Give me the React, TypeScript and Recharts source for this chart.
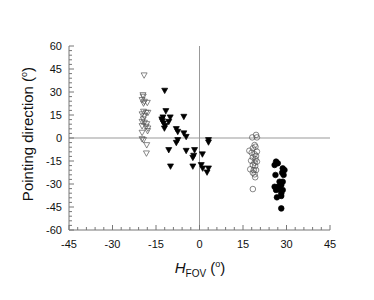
import React from "react"
import { ScatterChart, Scatter, XAxis, YAxis, ReferenceLine, Label } from "recharts"

// [H_FOV, pointing direction] pairs
const openTriangles = [
  [-19.1, 40.9], [-19.5, 28], [-19.4, 27], [-19.8, 24.8], [-19, 23.7], [-18, 23], [-19.3, 22.6],
  [-19.3, 17.2], [-18.4, 16.5], [-17.8, 16.5], [-19.8, 15.5], [-19, 14.3], [-19.4, 12.2],
  [-19.8, 10.6], [-19, 10], [-18.2, 9.1], [-19.8, 7.8], [-17.8, 6.3], [-18.4, 7.4],
  [-19.8, 3.5], [-17.9, 4.6], [-19.8, -0.7], [-19.3, -1.3], [-18.2, -4.6], [-18.3, -10],
]

const filledTriangles = [
  [-12, 30.9], [-11.6, 17.6], [-12.6, 13.5], [-13, 12.2], [-10.1, 13.5], [-10.6, 10.6],
  [-12.4, 9.6], [-12.1, 6.3], [-12.8, 11], [-11.8, 8], [-5.4, 13.9], [-8, 5.9], [-7.5, 4.1],
  [-5.4, 3.1], [-4.6, 0.8], [-7.5, -1.3], [-8, -3.1], [-10.6, -7.8], [-4.6, -8.3],
  [-1.7, -7.8], [-2, -11.5], [-2.3, -12.8], [1, -10.6], [3.1, -1.3], [3.1, -2.8],
  [-10, -18.5], [-2.3, -18.5], [0.6, -17.6], [1.1, -19.8], [2.6, -22.4], [3.1, -19.8],
]

const openCircles = [
  [18.2, 0.4], [19.5, 2], [19.8, 0.4], [19, -4.6], [19.3, -5.7], [18.4, -6.7], [17.2, -8.3],
  [19.8, -8.9], [18, -9.6], [19, -10.6], [19.5, -11.7], [18.4, -12.6], [19.3, -13.9],
  [17.8, -14.8], [19, -16.1], [19.8, -15.4], [18.4, -17.6], [19.2, -18.3], [17.5, -20.4],
  [18.7, -20.9], [19.5, -20.9], [18.4, -22.6], [19, -23.7], [19.2, -25.6], [18.4, -33.3],
]

const filledCircles = [
  [26.4, -15.4], [27, -16.5], [25.9, -17.6], [26.2, -24.1], [28.7, -19.8], [29.3, -20.9],
  [28.5, -22.6], [29, -24.1], [27.6, -28.5], [28.7, -28.5], [25.9, -31.8], [27, -31.8],
  [28.2, -30.7], [26.4, -33.9], [27.6, -33.5], [28.7, -33.9], [28.2, -36.1], [26.7, -38.7],
  [28.2, -37.8], [28.2, -45.9],
]

const xMajor = [-45, -30, -15, 0, 15, 30, 45]
const yMajor = [-60, -45, -30, -15, 0, 15, 30, 45, 60]
const xTicks = Array.from({ length: 31 }, (_, i) => -45 + i * 3)
const yTicks = Array.from({ length: 41 }, (_, i) => -60 + i * 3)

const toPts = (arr: number[][]) => arr.map(([x, y]) => ({ x, y }))

const axisColor = "#777"
const font = "'Liberation Sans', Arial, sans-serif"

const XTick = (props: any) => {
  const { x, y, payload } = props
  const major = xMajor.includes(payload.value)
  return (
    <g>
      <line x1={x} x2={x} y1={y} y2={y - (major ? 5 : 3)} stroke={axisColor} />
      {major && (
        <text x={x} y={y + 18} textAnchor="middle" fontSize={11} fontFamily={font} fill="#111">
          {payload.value}
        </text>
      )}
    </g>
  )
}

const YTick = (props: any) => {
  const { x, y, payload } = props
  const major = yMajor.includes(payload.value)
  return (
    <g>
      <line x1={x} x2={x + (major ? 5 : 3)} y1={y} y2={y} stroke={axisColor} />
      {major && (
        <text x={x - 7} y={y + 4} textAnchor="end" fontSize={11} fontFamily={font} fill="#111">
          {payload.value}
        </text>
      )}
    </g>
  )
}

const triangle = (filled: boolean) => (props: any) => {
  const { cx, cy } = props
  const s = 3
  return (
    <path
      d={`M${cx - s},${cy - s * 0.8} L${cx + s},${cy - s * 0.8} L${cx},${cy + s} Z`}
      fill={filled ? "#000" : "none"}
      stroke={filled ? "#000" : "#555"}
      strokeWidth={0.7}
    />
  )
}

const circle = (filled: boolean) => (props: any) => {
  const { cx, cy } = props
  return (
    <circle cx={cx} cy={cy} r={2.8} fill={filled ? "#000" : "none"} stroke={filled ? "#000" : "#555"} strokeWidth={0.7} />
  )
}

export default function App() {
  return (
    <div style={{ position: "absolute", left: 0, top: 0 }}>
      <ScatterChart width={374} height={300} margin={{ top: 46, right: 44, bottom: 40, left: 9 }}>
        <XAxis
          type="number"
          dataKey="x"
          domain={[-45, 45]}
          ticks={xTicks}
          interval={0}
          tickSize={0}
          tickMargin={0}
          tick={<XTick />}
          stroke={axisColor}
          height={30}
        >
          <Label
            content={() => (
              <text x={200} y={273} textAnchor="middle" fontFamily={font} fontSize={15} fill="#111">
                <tspan fontStyle="italic">H</tspan>
                <tspan fontSize={10} dy={4}>FOV</tspan>
                <tspan dy={-4}> (</tspan>
                <tspan fontSize={9} dy={-6}>o</tspan>
                <tspan dy={6}>)</tspan>
              </text>
            )}
          />
        </XAxis>
        <YAxis
          type="number"
          dataKey="y"
          domain={[-60, 60]}
          ticks={yTicks}
          interval={0}
          tickSize={0}
          tickMargin={0}
          tick={<YTick />}
          stroke={axisColor}
          width={60}
        >
          <Label
            content={() => (
              <text
                x={0}
                y={0}
                transform="translate(33,134) rotate(-90)"
                textAnchor="middle"
                fontFamily={font}
                fontSize={15}
                fill="#111"
              >
                Pointing direction (<tspan fontSize={9} dy={-6}>o</tspan>
                <tspan dy={6}>)</tspan>
              </text>
            )}
          />
        </YAxis>
        <ReferenceLine x={0} stroke="#999" />
        <ReferenceLine y={0} stroke="#999" />
        <Scatter data={toPts(openTriangles)} shape={triangle(false)} isAnimationActive={false} />
        <Scatter data={toPts(filledTriangles)} shape={triangle(true)} isAnimationActive={false} />
        <Scatter data={toPts(openCircles)} shape={circle(false)} isAnimationActive={false} />
        <Scatter data={toPts(filledCircles)} shape={circle(true)} isAnimationActive={false} />
      </ScatterChart>
    </div>
  )
}
